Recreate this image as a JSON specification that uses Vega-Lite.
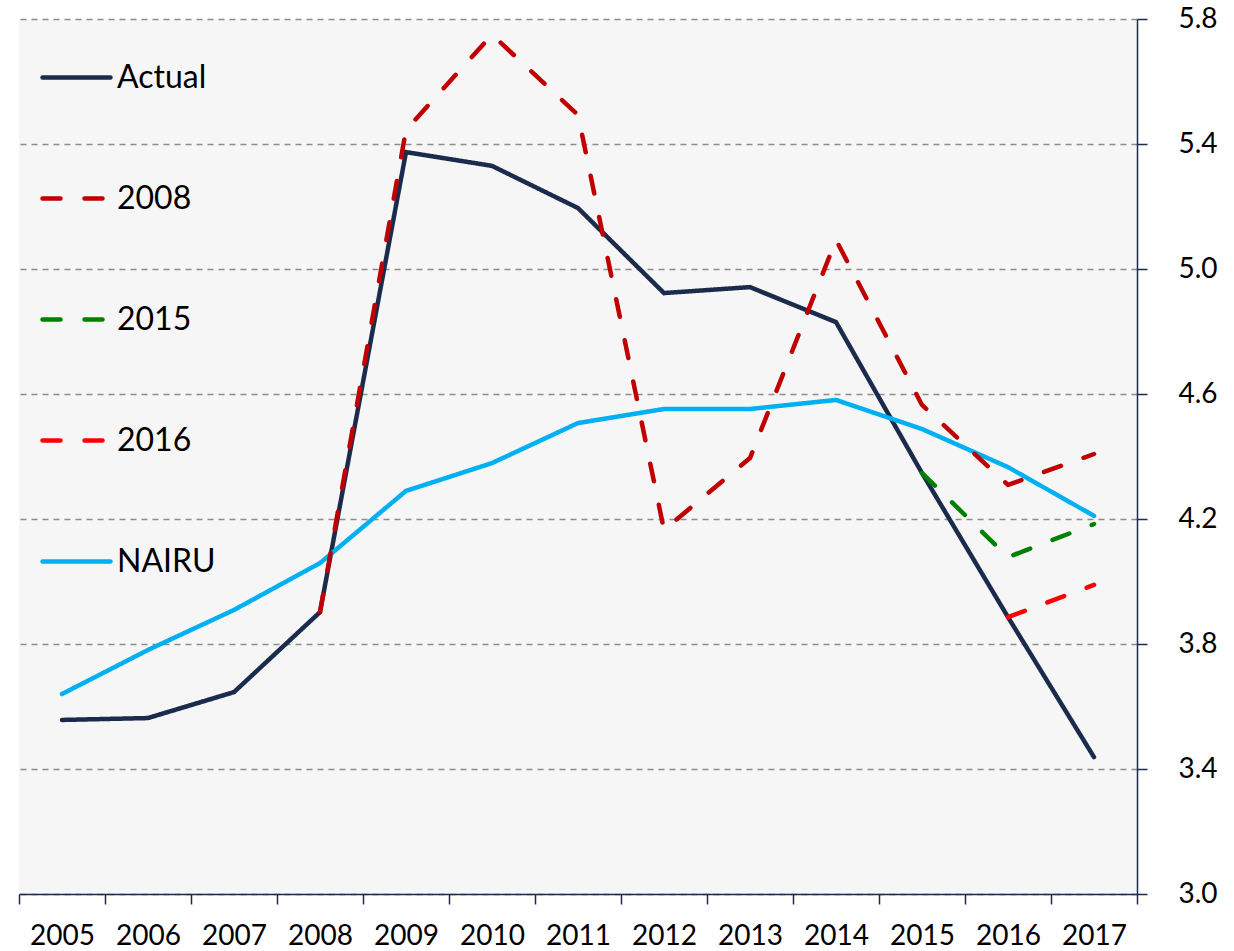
{
  "$schema": "https://vega.github.io/schema/vega-lite/v6.json",
  "width": 1118,
  "height": 875,
  "autosize": {"type": "none"},
  "padding": {"left": 19, "top": 19, "right": 97, "bottom": 57},
  "background": "#ffffff",
  "config": {
    "view": {"fill": "#f6f6f6", "stroke": null},
    "font": "Lato",
    "axis": {"labelFont": "Lato", "labelFontSize": 28, "labelColor": "#000000", "domainColor": "#1a2b4c", "tickColor": "#1a2b4c", "domainWidth": 1.5, "tickWidth": 1.5, "tickSize": 10, "title": null},
    "legend": {"labelFont": "Lato", "labelFontSize": 32, "labelColor": "#000000"}
  },
  "data": {"values": [
    {"year": "2005", "series": "Actual", "value": 3.557},
    {"year": "2006", "series": "Actual", "value": 3.563},
    {"year": "2007", "series": "Actual", "value": 3.646},
    {"year": "2008", "series": "Actual", "value": 3.902},
    {"year": "2009", "series": "Actual", "value": 5.374},
    {"year": "2010", "series": "Actual", "value": 5.330},
    {"year": "2011", "series": "Actual", "value": 5.195},
    {"year": "2012", "series": "Actual", "value": 4.923},
    {"year": "2013", "series": "Actual", "value": 4.942},
    {"year": "2014", "series": "Actual", "value": 4.830},
    {"year": "2015", "series": "Actual", "value": 4.347},
    {"year": "2016", "series": "Actual", "value": 3.886},
    {"year": "2017", "series": "Actual", "value": 3.438},
    {"year": "2005", "series": "NAIRU", "value": 3.640},
    {"year": "2006", "series": "NAIRU", "value": 3.781},
    {"year": "2007", "series": "NAIRU", "value": 3.909},
    {"year": "2008", "series": "NAIRU", "value": 4.059},
    {"year": "2009", "series": "NAIRU", "value": 4.290},
    {"year": "2010", "series": "NAIRU", "value": 4.379},
    {"year": "2011", "series": "NAIRU", "value": 4.507},
    {"year": "2012", "series": "NAIRU", "value": 4.552},
    {"year": "2013", "series": "NAIRU", "value": 4.552},
    {"year": "2014", "series": "NAIRU", "value": 4.581},
    {"year": "2015", "series": "NAIRU", "value": 4.488},
    {"year": "2016", "series": "NAIRU", "value": 4.366},
    {"year": "2017", "series": "NAIRU", "value": 4.210},
    {"year": "2008", "series": "2008", "value": 3.902},
    {"year": "2009", "series": "2008", "value": 5.445},
    {"year": "2010", "series": "2008", "value": 5.750},
    {"year": "2011", "series": "2008", "value": 5.493},
    {"year": "2012", "series": "2008", "value": 4.165},
    {"year": "2013", "series": "2008", "value": 4.395},
    {"year": "2014", "series": "2008", "value": 5.093},
    {"year": "2015", "series": "2008", "value": 4.565},
    {"year": "2016", "series": "2008", "value": 4.309},
    {"year": "2017", "series": "2008", "value": 4.408},
    {"year": "2015", "series": "2015", "value": 4.347},
    {"year": "2016", "series": "2015", "value": 4.078},
    {"year": "2017", "series": "2015", "value": 4.184},
    {"year": "2016", "series": "2016", "value": 3.886},
    {"year": "2017", "series": "2016", "value": 3.989}
  ]},
  "encoding": {
    "x": {"field": "year", "type": "ordinal", "scale": {"paddingInner": 0, "paddingOuter": 0},
      "axis": {"labelAngle": 0, "tickBand": "extent", "labelPadding": 18, "grid": false}},
    "y": {"field": "value", "type": "quantitative",
      "scale": {"domain": [3.0, 5.8], "nice": false, "zero": false},
      "axis": {"orient": "right", "values": [3.0, 3.4, 3.8, 4.2, 4.6, 5.0, 5.4, 5.8], "format": ".1f", "labelPadding": 31, "grid": true, "gridDash": [6, 5], "gridColor": "#8c8c8c", "gridWidth": 1.5}},
    "color": {"field": "series", "type": "nominal",
      "scale": {"domain": ["Actual", "2008", "2015", "2016", "NAIRU"], "range": ["#1a2b4c", "#c00000", "#008000", "#ff0000", "#00b0f0"]},
      "legend": {"title": null, "orient": "none", "legendX": 21, "legendY": 22, "symbolType": "stroke", "symbolSize": 4624, "symbolStrokeWidth": 4.5, "labelOffset": 4, "rowPadding": 68, "padding": 0,
        "encode": {"symbols": {"update": {"strokeCap": {"value": "round"}}}}}},
    "strokeDash": {"field": "series", "type": "nominal",
      "scale": {"domain": ["Actual", "2008", "2015", "2016", "NAIRU"], "range": [[1, 0], [18, 24], [18, 24], [18, 24], [1, 0]]},
      "legend": null}
  },
  "layer": [
    {"transform": [{"filter": "datum.series == 'NAIRU' || datum.series == 'Actual'"}],
     "mark": {"type": "line", "strokeWidth": 4.5, "strokeCap": "round", "strokeJoin": "miter"}},
    {"transform": [{"filter": "datum.series != 'NAIRU' && datum.series != 'Actual'"}],
     "mark": {"type": "line", "strokeWidth": 4.5, "strokeCap": "round", "strokeJoin": "round"}}
  ]
}
